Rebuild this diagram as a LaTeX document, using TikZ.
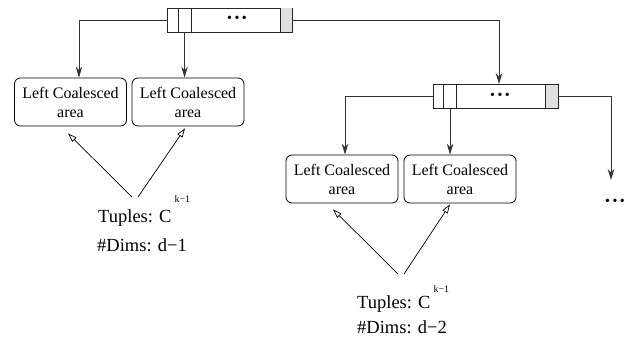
\documentclass[tikz,border=0pt]{standalone}
\usepackage{fontspec}
\setmainfont{Liberation Serif}
\usetikzlibrary{arrows.meta,calc}
\newcommand{\mydots}{\textbullet\hspace{2.5pt}\textbullet\hspace{2.5pt}\textbullet}
\begin{document}
\begin{tikzpicture}[x=1pt,y=-1pt,
  box/.style={draw=black,rounded corners=6pt,minimum width=112pt,minimum height=48pt,align=center,
    font=\fontsize{16}{19}\selectfont,inner sep=0pt,line width=0.8pt},
  arr/.style={-{Stealth[length=11pt,width=6.5pt]},line width=0.8pt,draw=black!80},
  oarr/.style={-{Triangle[open,length=9pt,width=6pt]},line width=0.7pt},
  cellarr/.style={draw=black!85,minimum width=125pt,minimum height=24pt,inner sep=0pt,line width=0.9pt},
  lbl/.style={anchor=base west,inner sep=0pt,font=\fontsize{18.5}{22}\selectfont},
  dotlbl/.style={inner sep=0pt,font=\fontsize{14}{14}\selectfont}]
\useasboundingbox (0,0) rectangle (636,341);

% arrays
\node[cellarr] (a1) at (230,20) {};
\node[cellarr] (a2) at (495.5,96.5) {};
\foreach \a in {a1,a2}{
  \fill[black!12] ($(\a.north east)+(-13,0.5)$) rectangle ($(\a.south east)+(-0.5,-0.5)$);
  \draw[black!85,line width=0.9pt] ($(\a.north east)+(-13,0)$) -- ($(\a.south east)+(-13,0)$);
  \draw[black!85,line width=0.9pt] ($(\a.north west)+(11,0)$) -- ($(\a.south west)+(11,0)$);
  \draw[black!85,line width=0.9pt] ($(\a.north west)+(24,0)$) -- ($(\a.south west)+(24,0)$);
}
\node[dotlbl] (d1) at (237,19) {\mydots};
\node[dotlbl] (d2) at (500,96) {\mydots};
\coordinate (a1c) at ($(a1.south west)+(17.5,0)$);
\coordinate (a2c) at ($(a2.south west)+(17.5,0)$);

% boxes
\node[box] (b1) at (70.5,102) {Left Coalesced\\area};
\node[box] (b2) at (188,102) {Left Coalesced\\area};
\node[box] (b3) at (342,179) {Left Coalesced\\area};
\node[box] (b4) at (460,179) {Left Coalesced\\area};

% connectors
\draw[arr] (a1.west) -| ($(b1.north)+(8.5,0)$);
\draw[arr] (a1c) -- (a1c |- b2.north);
\draw[arr] (a1.east) -| ($(a2.north)+(3.5,0)$);
\draw[arr] (a2.west) -| ($(b3.north)+(3,0)$);
\draw[arr] (a2c) -- (a2c |- b4.north);
\coordinate (rend) at (611,180);
\draw[arr] (a2.east) -| (rend);
\node[dotlbl] (rdots) at (615,202) {\mydots};

% labels
\node[lbl] (tu1) at (98,222) {Tuples: C\hspace{3pt}\raisebox{20pt}{\fontsize{10}{10}\selectfont k−1}};
\node[lbl] (dm1) at (97,251) {\#Dims: d−1};
\node[lbl] (tu2) at (357,308) {Tuples: C\hspace{3pt}\raisebox{16pt}{\fontsize{10}{10}\selectfont k−1}};
\node[lbl] (dm2) at (357,333) {\#Dims: d−2};

% hollow arrows
\coordinate (s1l) at (132,197);
\coordinate (s1r) at (138,197);
\coordinate (s2l) at (398,274);
\coordinate (s2r) at (404,274);
\draw[oarr] (s1l) -- ($(b1.south)+(-2.5,7)$);
\draw[oarr] (s1r) -- ($(b2.south)+(-3,2)$);
\draw[oarr] (s2l) -- ($(b3.south)+(-9,6)$);
\draw[oarr] (s2r) -- ($(b4.south)+(-10,1)$);
\end{tikzpicture}
\end{document}
